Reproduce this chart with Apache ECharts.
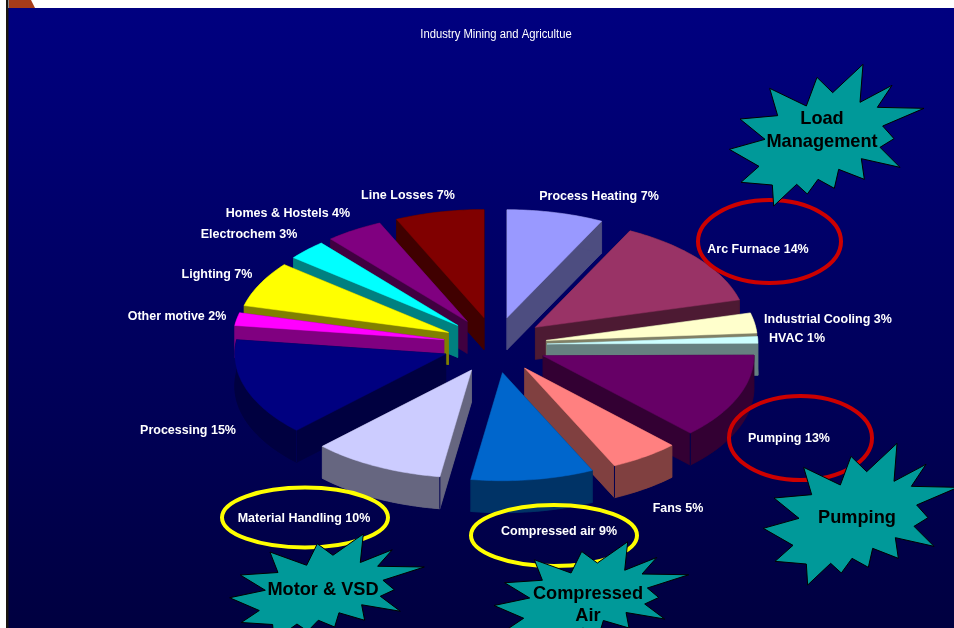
<!DOCTYPE html>
<html><head><meta charset="utf-8">
<style>html,body{margin:0;padding:0;background:#fff}#c{width:954px;height:628px}</style>
<script src="https://cdn.jsdelivr.net/npm/echarts@6/dist/echarts.min.js"></script>
</head><body><div id="c"></div>
<script>
// ---- data ----
var categories = ['Process Heating','Arc Furnace','Industrial Cooling','HVAC','Pumping','Fans','Compressed air','Material Handling','Processing','Other motive','Lighting','Electrochem','Homes & Hostels','Line Losses'];
var shares = [7.4,13.5,3,1,12.8,5.3,9.4,10.1,14.6,1.9,6.8,3,4.4,6.8];
var sliceColors = ['#9999FF','#993366','#FFFFCC','#CCFFFF','#660066','#FF8080','#0066CC','#CCCCFF','#000080','#FF00FF','#FFFF00','#00FFFF','#800080','#800000'];
var wallColors = ['#4D4D80','#4D1A33','#808066','#668080','#330033','#804040','#003366','#666680','#000040','#800080','#808000','#008080','#400040','#400000'];
var chartTitle = 'Industry Mining and Agricultue';
var calloutLabels = [['Load','Management'],['Pumping'],['Motor & VSD'],['Compressed','Air']];

// ---- layout ----
var labelSpots = [[599,196],[758,249],[828,319],[797,338],[789,438],[678,508],[559,531],[304,518],[188,430],[177,316],[217,274],[249,234],[288,213],[408,195]];
var ringSpots = [[769.5,241.5,71.5,41.5,'#CC0000'],[800.5,438,71.5,42,'#CC0000'],[305,517.5,83,30,'#FFFF00'],[554,535.5,83,30.5,'#FFFF00']];
var starOutline = [[489,43],[480,157],[576,106],[532,172],[672,175],[548,228],[582,266],[540,292],[600,352],[484,326],[493,388],[416,358],[403,415],[354,388],[322,432],[290,403],[221,468],[217,405],[123,397],[177,349],[88,298],[195,268],[120,207],[233,197],[209,115],[319,168],[351,82],[398,128]];
var starPlace = [[700,50,1],[734,429,1],[200.3,523.25,0.75],[464.7,531,0.75]];
var calloutText = [[[822,119],[822,142]],[[857,518]],[[323,590]],[[588,594],[588,616]]];

var CX=495, CY=345, RX=211, RY=108, EX=52, EY=28, DEPTH=32;
var total = shares.reduce(function(a,b){return a+b;},0);
var spans = [], run = 0;
shares.forEach(function(v){ spans.push([run/total*Math.PI*2,(run+v)/total*Math.PI*2]); run+=v; });
var drawOrder = categories.map(function(_,i){return i;}).sort(function(p,q){
  var mp=(spans[p][0]+spans[p][1])/2, mq=(spans[q][0]+spans[q][1])/2;
  return -Math.cos(mp)+Math.cos(mq);
});

function renderSlice(params, api){
  var i = api.value(0), a=spans[i][0], b=spans[i][1], m=(a+b)/2;
  var ax=CX+EX*Math.sin(m), ay=CY-EY*Math.cos(m);
  var arc=[], n=Math.max(4,Math.ceil((b-a)/0.02));
  for(var k=0;k<=n;k++){ var t=a+(b-a)*k/n; arc.push([ax+RX*Math.sin(t),ay-RY*Math.cos(t)]); }
  function dn(p){return [p[0],p[1]+DEPTH];}
  var top=[[ax,ay]].concat(arc);
  var wall=sliceWall(i);
  var kids=[];
  kids.push({type:'polygon',shape:{points:top.map(dn)},style:wall});
  kids.push({type:'polygon',shape:{points:[[ax,ay],arc[0],dn(arc[0]),[ax,ay+DEPTH]]},style:wall});
  kids.push({type:'polygon',shape:{points:[[ax,ay],arc[n],dn(arc[n]),[ax,ay+DEPTH]]},style:wall});
  kids.push({type:'polygon',shape:{points:arc.concat(arc.slice().reverse().map(dn))},style:wall});
  var deg=Math.PI/180;
  if(a>180*deg&&a<270*deg) kids.push({type:'line',shape:{x1:arc[0][0],y1:arc[0][1],x2:arc[0][0],y2:arc[0][1]+DEPTH},style:{stroke:'#000050',lineWidth:1}});
  if(b>90*deg&&b<180*deg) kids.push({type:'line',shape:{x1:arc[n][0],y1:arc[n][1],x2:arc[n][0],y2:arc[n][1]+DEPTH},style:{stroke:'#000050',lineWidth:1}});
  kids.push({type:'polygon',shape:{points:top},style:{fill:sliceColors[i],stroke:sliceColors[i],lineWidth:0.5}});
  return {type:'group',children:kids};
}
function sliceWall(i){return {fill:wallColors[i],stroke:wallColors[i],lineWidth:0.5};}

var elements = [
  {type:'rect',z:0,shape:{x:8,y:8,width:946,height:620},style:{fill:new echarts.graphic.LinearGradient(0,0,0,1,[{offset:0,color:'#000080'},{offset:1,color:'#000040'}])}},
  {type:'rect',z:1,shape:{x:6,y:0,width:2.5,height:628},style:{fill:'#1A1410'}},
  {type:'polygon',z:1,shape:{points:[[9,0],[31,0],[35,8],[9,8]]},style:{fill:'#A63C1A'}},
  {type:'text',z:30,x:496,y:35,scaleX:0.9,style:{text:chartTitle,fill:'#fff',font:'12.5px "Liberation Sans"',align:'center',verticalAlign:'middle'}}
];
categories.forEach(function(c,i){
  elements.push({type:'text',z:30,x:labelSpots[i][0],y:labelSpots[i][1],scaleX:0.926,style:{text:c+' '+Math.round(shares[i])+'%',fill:'#fff',font:'bold 13.5px "Liberation Sans"',align:'center',verticalAlign:'middle'}});
});
ringSpots.forEach(function(r){
  elements.push({type:'ellipse',z:20,shape:{cx:r[0],cy:r[1],rx:r[2],ry:r[3]},style:{fill:'none',stroke:r[4],lineWidth:4}});
});
starPlace.forEach(function(s,i){
  elements.push({type:'polygon',z:40,shape:{points:starOutline.map(function(p){return [s[0]+p[0]/3,s[1]+p[1]/3*s[2]];})},style:{fill:'#009999',stroke:'#000',lineWidth:1}});
  calloutLabels[i].forEach(function(t,j){
    elements.push({type:'text',z:50,x:calloutText[i][j][0],y:calloutText[i][j][1],style:{text:t,fill:'#000',font:'bold 18.2px "Liberation Sans"',align:'center',verticalAlign:'middle'}});
  });
});

var chart = echarts.init(document.getElementById('c'),null,{renderer:'canvas'});
chart.setOption({
  animation:false,
  backgroundColor:'#fff',
  graphic:{elements:elements},
  series:[{type:'custom',coordinateSystem:'none',z:10,silent:true,clip:false,
    renderItem:renderSlice,
    data:drawOrder.map(function(i){return [i,shares[i]];})}]
});
</script></body></html>
